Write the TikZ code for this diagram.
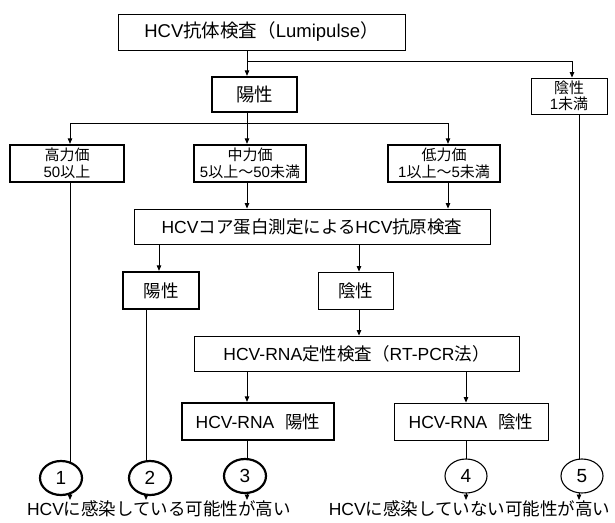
\documentclass[tikz,border=0pt]{standalone}
\usepackage{fontspec}
\setmainfont{Liberation Sans}
\newfontfamily\jp{Noto Sans CJK JP}
\usetikzlibrary{arrows.meta,backgrounds,shapes.geometric}
\newcommand\J[1]{{\jp #1}}
\begin{document}
\begin{tikzpicture}[x=1pt,y=-1pt,
  box/.style={draw, line width=0.9pt, inner sep=0pt, align=center, font={\fontsize{17.5}{20}\selectfont}},
  thickbox/.style={box, line width=2.3pt},
  small/.style={font={\fontsize{15}{16.5}\selectfont}},
  ln/.style={line width=0.8pt},
  arr/.style={ln, -{Triangle[length=5.5pt,width=4.5pt]}},
  num/.style={draw, ellipse, line width=1.1pt, minimum width=42pt, minimum height=34pt, inner sep=0pt, fill=white, font={\fontsize{19}{21}\selectfont}},
  thicknum/.style={num, line width=2.2pt},
  result/.style={inner sep=0pt, anchor=north, font={\fontsize{17.5}{20}\selectfont}},
]
\useasboundingbox (0,0) rectangle (615,522);

% boxes
\node[box, minimum width=287pt, minimum height=36pt, font={\fontsize{18.5}{20}\selectfont}] (A) at (261.5,32) {HCV\J{抗体検査（}Lumipulse\J{）}};
\node[thickbox, minimum width=85pt, minimum height=35pt, font={\fontsize{18.5}{20}\selectfont}] (B) at (254.5,94.5) {\J{陽性}};
\node[box, small, minimum width=76pt, minimum height=36pt] (D) at (569,96) {\J{陰性}\\1\J{未満}};
\node[thickbox, small, minimum width=114pt, minimum height=37pt] (C1) at (67,163.5) {\J{高力価}\\50\J{以上}};
\node[thickbox, small, minimum width=112pt, minimum height=37pt] (C2) at (250,163.5) {\J{中力価}\\5\J{以上～}50\J{未満}};
\node[thickbox, small, minimum width=112pt, minimum height=37pt] (C3) at (444,163.5) {\J{低力価}\\1\J{以上～}5\J{未満}};
\node[box, minimum width=356pt, minimum height=35pt] (E) at (312,226.5) {HCV\J{コア蛋白測定による}HCV\J{抗原検査}};
\node[thickbox, minimum width=76pt, minimum height=37pt] (F) at (161,290.5) {\J{陽性}};
\node[box, minimum width=75pt, minimum height=37pt] (G) at (355.5,290.5) {\J{陰性}};
\node[box, minimum width=325pt, minimum height=35pt] (H) at (356.5,353.5) {HCV-RNA\J{定性検査（}RT-PCR\J{法）}};
\node[thickbox, minimum width=152pt, minimum height=37pt] (I) at (258,421.5) {HCV-RNA\hspace{11pt}\J{陽性}};
\node[box, minimum width=154pt, minimum height=37pt] (J) at (471,421.5) {HCV-RNA\hspace{11pt}\J{陰性}};

% outcome circles
\node[thicknum] (O1) at (61,478) {1};
\node[thicknum] (O2) at (150,478) {2};
\node[thicknum] (O3) at (245,476) {3};
\node[num] (O4) at (466,476) {4};
\node[num] (O5) at (582,476) {5};

% result texts
\node[result] (T1) at (159,500) {HCV\J{に感染している可能性が高い}};
\node[result] (T2) at (469.5,500) {HCV\J{に感染していない可能性が高い}};

% connector x positions and junctions
\coordinate (xa) at (247,0);
\coordinate (x1) at (70,0);
\coordinate (x2) at (146,0);
\coordinate (x3) at (448,0);
\coordinate (xd) at (572,0);
\coordinate (xd2) at (579,0);
\coordinate (xf) at (159,0);
\coordinate (xg) at (359,0);
\coordinate (xj) at (466,0);
\coordinate (j1) at (247,61);
\coordinate (j2l) at (70,123);
\coordinate (j2r) at (448,123);

\begin{scope}[on background layer]
\draw[arr] (A.south -| xa) -- (B.north -| xa);
\draw[arr] (j1) -| (D.north -| xd);
\draw[arr] (B.south -| xa) -- (C2.north -| xa);
\draw[ln] (j2l) -- (j2r);
\draw[arr] (j2l) -- (C1.north -| j2l);
\draw[arr] (j2r) -- (C3.north -| j2r);
\draw[arr] (C2.south -| xa) -- (E.north -| xa);
\draw[arr] (C3.south -| x3) -- (E.north -| x3);
\draw[arr] (E.south -| xf) -- (F.north -| xf);
\draw[arr] (E.south -| xg) -- (G.north -| xg);
\draw[arr] (G.south -| xg) -- (H.north -| xg);
\draw[arr] (H.south -| xa) -- (I.north -| xa);
\draw[arr] (H.south -| xj) -- (J.north -| xj);
% down to the outcome circles
\draw[ln] (C1.south -| x1) -- (O1.center -| x1);
\draw[ln] (F.south -| x2) -- (O2.center -| x2);
\draw[ln] (I.south -| xa) -- (O3.center -| xa);
\draw[ln] (J.south -| xj) -- (O4.center -| xj);
\draw[ln] (D.south -| xd2) -- (O5.center -| xd2);
% circles to result texts
\draw[arr] (O1.center -| x1) -- (T1.north -| x1);
\draw[arr] (O2.center -| x2) -- (T1.north -| x2);
\draw[arr] (O3.center -| xa) -- (T1.north -| xa);
\draw[arr] (O4.center -| xj) -- (T2.north -| xj);
\draw[arr] (O5.center -| xd2) -- (T2.north -| xd2);
\end{scope}
\end{tikzpicture}
\end{document}
